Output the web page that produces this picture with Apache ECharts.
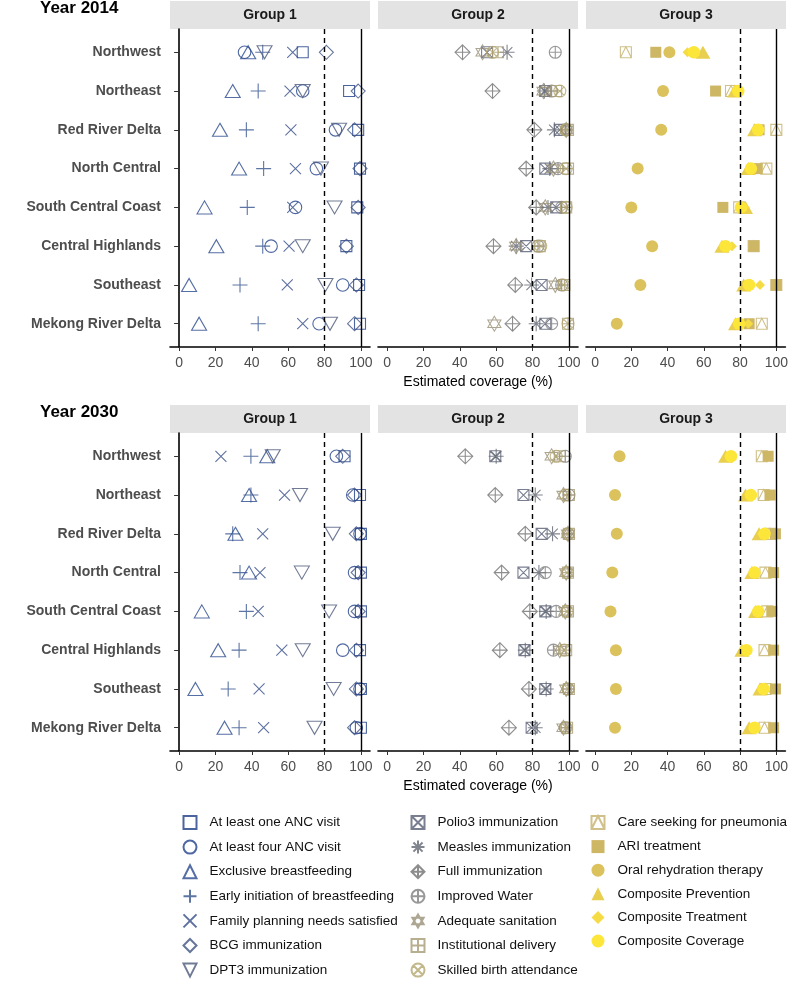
<!DOCTYPE html>
<html><head><meta charset="utf-8">
<script src="https://cdn.jsdelivr.net/npm/echarts@6/dist/echarts.min.js"></script>
<style>html,body{margin:0;padding:0;background:#fff}#c{width:791px;height:982px}</style>
</head><body><div id="c"></div><script>
// ---------- DATA ----------
const regions = ['Northwest','Northeast','Red River Delta','North Central','South Central Coast','Central Highlands','Southeast','Mekong River Delta'];
const xTicks = [0,20,40,60,80,100];
const groupTitles = ['Group 1','Group 2','Group 3'];
const yearTitles = ['Year 2014','Year 2030'];
const xTitle = 'Estimated coverage (%)';
const indicatorNames = ['At least one ANC visit','At least four ANC visit','Exclusive breastfeeding','Early initiation of breastfeeding','Family planning needs satisfied','BCG immunization','DPT3 immunization',
  'Polio3 immunization','Measles immunization','Full immunization','Improved Water','Adequate sanitation','Institutional delivery','Skilled birth attendance',
  'Care seeking for pneumonia','ARI treatment','Oral rehydration therapy','Composite Prevention','Composite Treatment','Composite Coverage'];
const indicatorGroup = [0,0,0,0,0,0,0, 1,1,1,1,1,1,1, 2,2,2,2,2,2];

// Year 2014 (order of regions)
const anc1_2014    = [68, 93.5, 98.5, 99.5, 98, 92, 99, 99.5];
const anc4_2014    = [36, 68, 86, 75.5, 64, 50.6, 90, 77];
const ebf_2014     = [38, 29.5, 22.5, 33, 14, 20.5, 5.5, 11];
const eibf_2014    = [46, 43.5, 37, 46.5, 37.5, 46, 33.5, 43.5];
const fp_2014      = [62.5, 61, 61.5, 64, 62.5, 60.5, 59.5, 68];
const bcg_2014     = [81, 98.5, 96.5, 99.5, 98.5, 92, 97.5, 96.5];
const dpt3_2014    = [47, 68, 88, 78, 85.5, 68, 80.5, 83];
const polio_2014   = [55, 87, 95, 87, 93, 76.5, 85, 87];
const measles_2014 = [66, 86.5, 92, 89.5, 88.5, 71, 79.5, 82];
const fullimm_2014 = [41.5, 58, 81, 76.5, 82, 58.5, 70.5, 69];
const water_2014   = [92.5, 90.5, 98.5, 94, 96, 83, 96, 90.5];
const sanit_2014   = [52.5, 86, 98.5, 91.5, 87, 71, 92.5, 59];
const instdel_2014 = [61, 93, 99.5, 99.5, 98.5, 84, 97.5, 99.5];
const sba_2014     = [58, 95, 98.5, 98.5, 98.5, 84.5, 97, 99.5];
const care_2014    = [17, 75, 100, 94.5, 79.5, 87.5, 100, 92];
const ari_2014     = [33.5, 66.5, 90.5, 89.5, 70.5, 87.5, 100, 85];
const ors_2014     = [41, 37.5, 36.5, 23.5, 20, 31.5, 25, 12];
const prev_2014    = [59.5, 77, 88, 84.5, 83, 70, 82, 77.5];
const treat_2014   = [51, 78, 89.5, 86.5, 82.5, 75.5, 91, 84.5];
const cov_2014     = [54.5, 79, 90, 86, 80.5, 72, 85, 79.5];

// Year 2030
const anc1_2030    = [91, 99.5, 100, 100, 100, 99.5, 100, 100];
const anc4_2030    = [86.5, 95.5, 99.5, 96.5, 96.5, 90, 99.5, 97.5];
const ebf_2030     = [48.5, 38.5, 31, 38.5, 12.5, 21.5, 9, 25];
const eibf_2030    = [39.5, 39.5, 29.5, 33.5, 37, 33, 27, 33];
const fp_2030      = [23, 58, 46, 44.5, 43.5, 56.5, 44, 46.5];
const bcg_2030     = [90, 96.5, 97.5, 98.5, 98.5, 97.5, 97.5, 96.5];
const dpt3_2030    = [51.5, 66.5, 84.5, 67.5, 82.5, 68, 85, 74.5];
const polio_2030   = [59.5, 75, 85, 75, 87, 75.5, 87, 79.5];
const measles_2030 = [60, 81.5, 91, 83.5, 87.5, 76, 87.5, 81.5];
const fullimm_2030 = [43, 59.5, 76, 63, 78.5, 62, 78, 67];
const water_2030   = [98, 100, 99.5, 87, 93, 91.5, 99.5, 98];
const sanit_2030   = [90.5, 97, 99.5, 98.5, 98, 95, 98.5, 97];
const instdel_2030 = [95, 100, 100, 99.5, 99.5, 98.5, 100, 99];
const sba_2030     = [93, 98, 99.5, 99, 99, 97.5, 99.5, 98.5];
const care_2030    = [92, 93, 96.5, 94, 95, 93.5, 94, 93.5];
const ari_2030     = [95.5, 96.5, 99.5, 98.5, 97.5, 98.5, 99.5, 98.5];
const ors_2030     = [13.5, 11, 12, 9.5, 8.5, 11.5, 11.5, 11];
const prev_2030    = [72, 83, 90.5, 86.5, 88.5, 81, 91, 85];
const treat_2030   = [74, 85, 92, 87.5, 89, 82.5, 92, 87];
const cov_2030     = [75, 86, 93.5, 88, 90, 83.5, 93, 88];

const data2014 = [anc1_2014, anc4_2014, ebf_2014, eibf_2014, fp_2014, bcg_2014, dpt3_2014,
  polio_2014, measles_2014, fullimm_2014, water_2014, sanit_2014, instdel_2014, sba_2014,
  care_2014, ari_2014, ors_2014, prev_2014, treat_2014, cov_2014];
const data2030 = [anc1_2030, anc4_2030, ebf_2030, eibf_2030, fp_2030, bcg_2030, dpt3_2030,
  polio_2030, measles_2030, fullimm_2030, water_2030, sanit_2030, instdel_2030, sba_2030,
  care_2030, ari_2030, ors_2030, prev_2030, treat_2030, cov_2030];
const yearData = [data2014, data2030];

// ---------- STYLES ----------
const FONT = '"Liberation Sans", Arial, Helvetica, sans-serif';
const C = 'M1,0C1,0.552,0.552,1,0,1C-0.552,1,-1,0.552,-1,0C-1,-0.552,-0.552,-1,0,-1C0.552,-1,1,-0.552,1,0Z';
const shapes = [
  {s:'rect', z:11, f:false, c:'#1f3d86'},
  {s:'path://'+C, z:12.5, f:false, c:'#23428c'},
  {s:'triangle', z:[15,13], f:false, c:'#2b4a8f'},
  {s:'path://M0,-1L0,1M-1,0L1,0', z:15, f:false, c:'#35528f'},
  {s:'path://M-1,-1L1,1M-1,1L1,-1', z:11, f:false, c:'#344c88'},
  {s:'diamond', z:14, f:false, c:'#3f5282'},
  {s:'path://M-1,-1L1,-1L0,1Z', z:[15,13], f:false, c:'#4f5a7c'},
  {s:'path://M-1,-1L1,-1L1,1L-1,1ZM-1,-1L1,1M-1,1L1,-1', z:11, f:false, c:'#575e76'},
  {s:'path://M0,-1L0,1M-1,0L1,0M-0.7,-0.7L0.7,0.7M-0.7,0.7L0.7,-0.7', z:15, f:false, c:'#626672'},
  {s:'path://M0,-1L1,0L0,1L-1,0ZM0,-1L0,1M-1,0L1,0', z:15, f:false, c:'#717172'},
  {s:'path://'+C+'M0,-1L0,1M-1,0L1,0', z:12, f:false, c:'#7e7e7e'},
  {s:'path://M0,-1L0.866,0.5L-0.866,0.5ZM0,1L0.866,-0.5L-0.866,-0.5Z', z:[13,15], f:false, c:'#989077'},
  {s:'path://M-1,-1L1,-1L1,1L-1,1ZM0,-1L0,1M-1,0L1,0', z:11, f:false, c:'#a69b74'},
  {s:'path://'+C+'M-0.707,-0.707L0.707,0.707M-0.707,0.707L0.707,-0.707', z:12, f:false, c:'#b4a66f'},
  {s:'path://M-1,-1L1,-1L1,1L-1,1ZM-1,1L0,-1L1,1', z:11, f:false, c:'#c4b06b'},
  {s:'rect', z:11, f:true, c:'#cdb664'},
  {s:'circle', z:12, f:true, c:'#dbc25d'},
  {s:'triangle', z:[15,13], f:true, c:'#e9cf4f'},
  {s:'diamond', z:10, f:true, c:'#f5dc45'},
  {s:'circle', z:12.5, f:true, c:'#fde63a'}
];

// ---------- LAYOUT ----------
const gridLefts = [170, 378, 586];
const gridTops = [29, 433];
const gridW = 200, gridH = 318;

const grids = [], xAxes = [], yAxes = [], series = [], graphics = [];
for (let r = 0; r < 2; r++) {
  graphics.push({type:'text', left: 40, top: gridTops[r] - 29,
    style:{text: yearTitles[r], font: 'bold 17px ' + FONT, fill:'#000'}});
  for (let c = 0; c < 3; c++) {
    const gi = r*3 + c;
    grids.push({left: gridLefts[c], top: gridTops[r], width: gridW, height: gridH, containLabel:false});
    xAxes.push({
      gridIndex: gi, type:'value', min:-5, max:105,
      axisLine:{show:true, lineStyle:{color:'#000', width:1.6}},
      axisTick:{show:true, customValues:xTicks, length:4, lineStyle:{color:'#333', width:1}},
      axisLabel:{customValues:xTicks, color:'#4d4d4d', fontSize:14, margin:9, fontFamily:FONT},
      splitLine:{show:false},
      name: c === 1 ? xTitle : '', nameLocation:'middle', nameGap: 28,
      nameTextStyle:{color:'#000', fontSize:14, fontFamily:FONT}
    });
    yAxes.push({
      gridIndex: gi, type:'value', min:0.4, max:8.6, inverse:true,
      axisLine:{show: c === 0, lineStyle:{color:'#000', width:1.6}},
      axisTick:{show: c === 0, customValues:[1,2,3,4,5,6,7,8], length:5, lineStyle:{color:'#333'}},
      axisLabel:{show: c === 0, customValues:[1,2,3,4,5,6,7,8], margin:9,
        formatter: v => regions[Math.round(v) - 1] || '',
        color:'#4d4d4d', fontSize:14, fontWeight:'bold', fontFamily:FONT},
      splitLine:{show:false}
    });
    graphics.push({type:'rect', shape:{x: gridLefts[c], y: gridTops[r] - 28, width: gridW, height: 28},
      style:{fill:'#e3e3e3'}, z: 0});
    graphics.push({type:'text', x: gridLefts[c] + gridW/2, y: gridTops[r] - 14,
      style:{text: groupTitles[c], font:'bold 14px ' + FONT, fill:'#1a1a1a', align:'center', verticalAlign:'middle'}, z: 1});
  }
}

const markLineFor = {
  silent:true, symbol:'none', label:{show:false},
  data:[
    {xAxis:80, lineStyle:{type:[5,4], color:'#000', width:1.4}},
    {xAxis:100, lineStyle:{type:'solid', color:'#000', width:1.4}}
  ]
};

for (let r = 0; r < 2; r++) {
  const firstInGrid = {};
  indicatorNames.forEach((name, i) => {
    const sh = shapes[i];
    const gi = r*3 + indicatorGroup[i];
    const s = {
      type:'scatter', name, xAxisIndex: gi, yAxisIndex: gi,
      symbol: sh.s, symbolSize: sh.z,
      itemStyle: sh.f ? {color: sh.c, opacity: 1} : {color:'rgba(255,255,255,0)', borderColor: sh.c, borderWidth: 1.1},
      emphasis:{disabled:true},
      data: yearData[r][i].map((v, k) => [v, k + 1])
    };
    if (!firstInGrid[gi]) { s.markLine = markLineFor; firstInGrid[gi] = true; }
    series.push(s);
  });
}

const legendLefts = [182.5, 410.5, 590.5];
const legends = [0,1,2].map(c => ({
  orient:'vertical', left: legendLefts[c], top: 815, height: 190, padding: 0,
  itemWidth:13, itemHeight:13, itemGap:9.6, selectedMode:false,
  data: indicatorNames.filter((n, i) => indicatorGroup[i] === c),
  textStyle:{fontSize:13.5, color:'#111', lineHeight:13, padding:[0,0,0,8], fontFamily:FONT}
}));

const chart = echarts.init(document.getElementById('c'), null, {renderer:'canvas'});
chart.setOption({
  animation:false, backgroundColor:'#fff',
  grid: grids, xAxis: xAxes, yAxis: yAxes, series, legend: legends, graphic: graphics
});
</script></body></html>
